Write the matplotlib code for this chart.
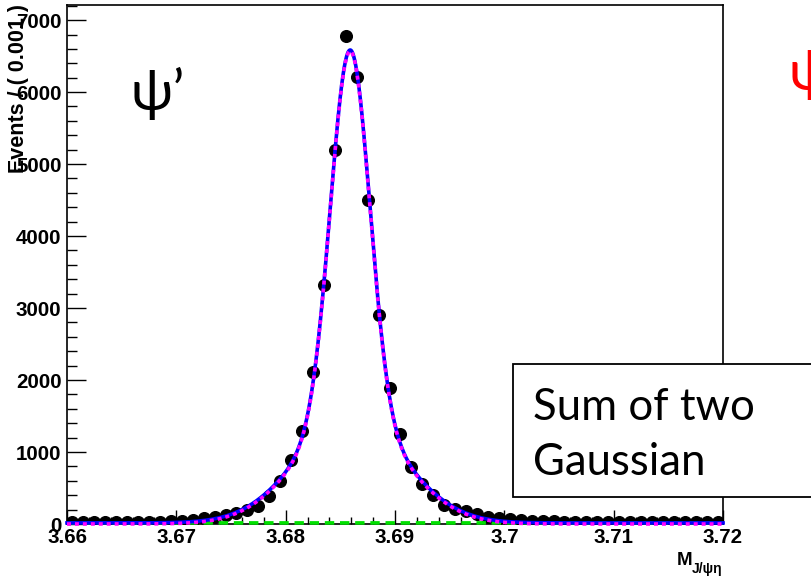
import numpy as np
import matplotlib.pyplot as plt
from matplotlib.patches import Rectangle
from matplotlib.ticker import MultipleLocator

# ── binned data: 60 bins of width 0.001 between 3.66 and 3.72 ────────────────
bin_lo, bin_hi, bin_w = 3.66, 3.72, 0.001
counts = [22, 22, 24, 24, 25, 26, 28, 30, 32, 36, 42, 52,
          83, 97, 125, 153, 194, 250, 389, 597, 889, 1292, 2110, 3320,
          5190, 6780, 6205, 4500, 2905, 1890, 1250, 792, 556, 403, 264, 208,
          181, 139, 97, 83, 69, 52, 46, 42, 38, 34, 32, 30,
          30, 28, 28, 26, 26, 25, 24, 24, 23, 23, 22, 22]

# ── fit (events per bin) ─────────────────────────────────────────────────────
fit_mean = 3.6859
core_amp, core_sigma = 5150, 0.00178
wide_amp, wide_sigma = 1420, 0.0049
bkg_level = 15

centers = bin_lo + bin_w * (np.arange(len(counts)) + 0.5)
counts = np.array(counts, dtype=float)
errors = np.sqrt(counts)

xf = np.linspace(bin_lo, bin_hi, 1200)
signal = (core_amp * np.exp(-0.5 * ((xf - fit_mean) / core_sigma) ** 2)
          + wide_amp * np.exp(-0.5 * ((xf - fit_mean) / wide_sigma) ** 2))
background = np.full_like(xf, bkg_level)
total = signal + background

W, H = 811, 577
fig = plt.figure(figsize=(W / 100, H / 100), dpi=100)
ax = fig.add_axes([67 / W, 1 - 524 / H, (723 - 67) / W, (524 - 5) / H])

# data first, fit curves drawn over it (ROOT order)
ax.errorbar(centers, counts, yerr=errors, fmt="o", color="black", ms=8.4,
            elinewidth=1, capsize=0, zorder=2)
ax.plot(xf, background, color="#00e000", lw=2.6, dashes=(2.6, 1.6), zorder=3,
        clip_on=False)
ax.plot(xf, total, color="#0000ff", lw=2.6, zorder=4, clip_on=False)
ax.plot(xf, signal, color="#ff00ff", lw=2.6, dashes=(1.1, 1.1), zorder=5,
        clip_on=False)

ax.set_xlim(bin_lo, bin_hi)
ax.set_ylim(0, 7210)
ax.xaxis.set_minor_locator(MultipleLocator(0.002))
ax.yaxis.set_major_locator(MultipleLocator(1000))
ax.yaxis.set_minor_locator(MultipleLocator(200))
ax.set_xticks([3.66, 3.67, 3.68, 3.69, 3.70, 3.71, 3.72])
ax.set_xticklabels(["3.66", "3.67", "3.68", "3.69", "3.7", "3.71", "3.72"])

ax.tick_params(axis="x", which="major", direction="in", length=10, width=1, pad=3)
ax.tick_params(axis="x", which="minor", direction="in", length=5, width=1)
ax.tick_params(axis="y", which="major", direction="in", length=14, width=1, pad=4)
ax.tick_params(axis="y", which="minor", direction="in", length=7, width=1)
for lbl in ax.get_xticklabels() + ax.get_yticklabels():
    lbl.set_fontfamily("Liberation Sans")
    lbl.set_fontweight("bold")
    lbl.set_fontsize(14.8)
for sp in ax.spines.values():
    sp.set_linewidth(1.2)

# axis titles (ROOT style)
fig.text(19 / W, 1 - 4 / H, "Events / ( 0.001 )", rotation=90, ha="center",
         va="top", fontsize=15.5, fontweight="bold", family="Liberation Sans")
fig.text(677 / W, 1 - 565 / H, "M", ha="left", va="baseline", fontsize=13.5,
         fontweight="bold", family="Liberation Sans")
fig.text(692 / W, 1 - 573 / H, "J/ψη", ha="left", va="baseline", fontsize=10,
         fontweight="bold", family=["Liberation Sans", "DejaVu Sans"])

# slide annotations
fig.text(130 / W, 1 - 110 / H, "ψ’", ha="left", va="baseline", fontsize=40,
         color="black", family=["Lato", "DejaVu Sans"])
fig.text(788 / W, 1 - 90 / H, "ψ’", ha="left", va="baseline", fontsize=40,
         color="red", family=["Lato", "DejaVu Sans"])

box = Rectangle((513 / W, 1 - 497 / H), 310 / W, 133 / H, transform=fig.transFigure,
                facecolor="white", edgecolor="black", lw=1.3, zorder=10)
fig.patches.append(box)
fig.text(533 / W, 1 - 420 / H, "Sum of two", ha="left", va="baseline",
         fontsize=31.5, family="Lato", zorder=11)
fig.text(533 / W, 1 - 475 / H, "Gaussian", ha="left", va="baseline",
         fontsize=31.5, family="Lato", zorder=11)

fig.savefig("out.png", dpi=100)
